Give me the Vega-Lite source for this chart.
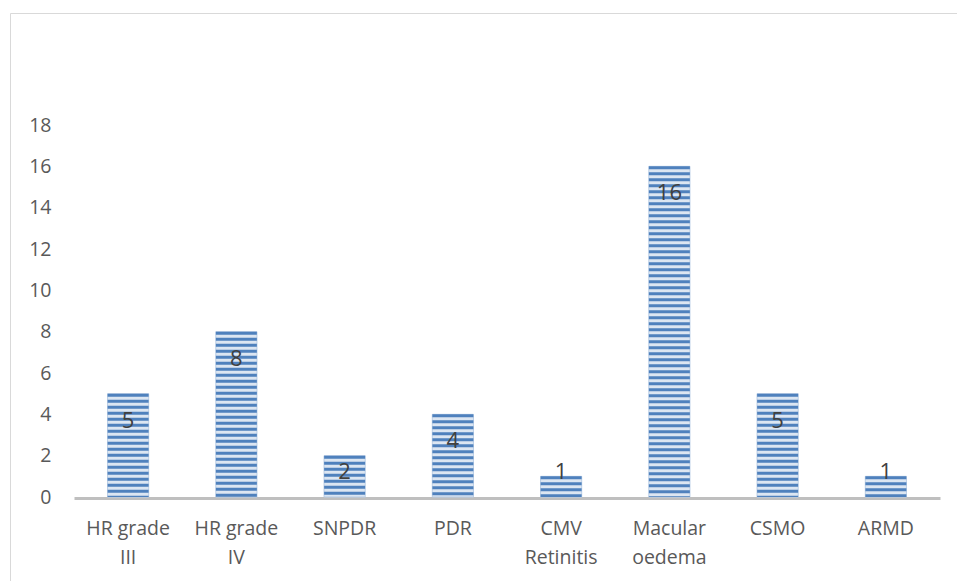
{
  "$schema": "https://vega.github.io/schema/vega-lite/v6.json",
  "autosize": {"type": "none"},
  "padding": {"left": 10, "top": 13, "right": 0, "bottom": 0},
  "width": 947,
  "height": 568,
  "background": "white",
  "config": {"view": {"stroke": "#d9d9d9", "strokeWidth": 1}, "font": "Open Sans"},
  "data": {"values": [
    {"condition": "HR grade III", "count": 5},
    {"condition": "HR grade IV", "count": 8},
    {"condition": "SNPDR", "count": 2},
    {"condition": "PDR", "count": 4},
    {"condition": "CMV Retinitis", "count": 1},
    {"condition": "Macular oedema", "count": 16},
    {"condition": "CSMO", "count": 5},
    {"condition": "ARMD", "count": 1}
  ]},
  "encoding": {
    "x": {
      "field": "condition", "type": "nominal", "sort": null,
      "scale": {"range": [64, 930], "paddingInner": 0.62, "paddingOuter": 0.31},
      "axis": {
        "title": null, "labelAngle": 0, "ticks": false,
        "domainColor": "#bfbfbf", "domainWidth": 3,
        "labelFontSize": 19.5, "labelColor": "#595959", "labelLineHeight": 29,
        "labelPadding": 21, "offset": -83,
        "labelExpr": "lastindexof(datum.label, ' ') < 0 ? datum.label : [substring(datum.label, 0, lastindexof(datum.label, ' ')), substring(datum.label, lastindexof(datum.label, ' ') + 1)]"
      }
    }
  },
  "layer": [
    {
      "mark": {"type": "bar", "fill": "#dce6f2", "stroke": "#b9cde5", "strokeWidth": 1},
      "encoding": {
        "y": {
          "field": "count", "type": "quantitative",
          "scale": {"domain": [0, 18], "range": [484, 112], "nice": false},
          "axis": {
            "title": null, "values": [0, 2, 4, 6, 8, 10, 12, 14, 16, 18],
            "domain": false, "ticks": false, "grid": false,
            "labelFontSize": 19.5, "labelColor": "#595959", "labelPadding": 4, "offset": -45
          }
        }
      }
    },
    {
      "mark": {"type": "rule", "stroke": "#4f81bd", "strokeWidth": 41, "strokeDash": [3, 3], "strokeCap": "butt"},
      "encoding": {
        "y": {"field": "count", "type": "quantitative", "scale": {"domain": [0, 18], "range": [484, 112], "nice": false}, "axis": null},
        "y2": {"datum": 0}
      }
    },
    {
      "mark": {"type": "text", "fontSize": 22, "color": "#404040", "baseline": "middle"},
      "encoding": {
        "y": {"field": "count", "type": "quantitative", "scale": {"domain": [2.516, 20.516], "range": [459, 87], "clamp": true, "nice": false, "zero": false}, "axis": null},
        "text": {"field": "count", "type": "quantitative"}
      }
    }
  ],
  "resolve": {"scale": {"y": "independent"}}
}
